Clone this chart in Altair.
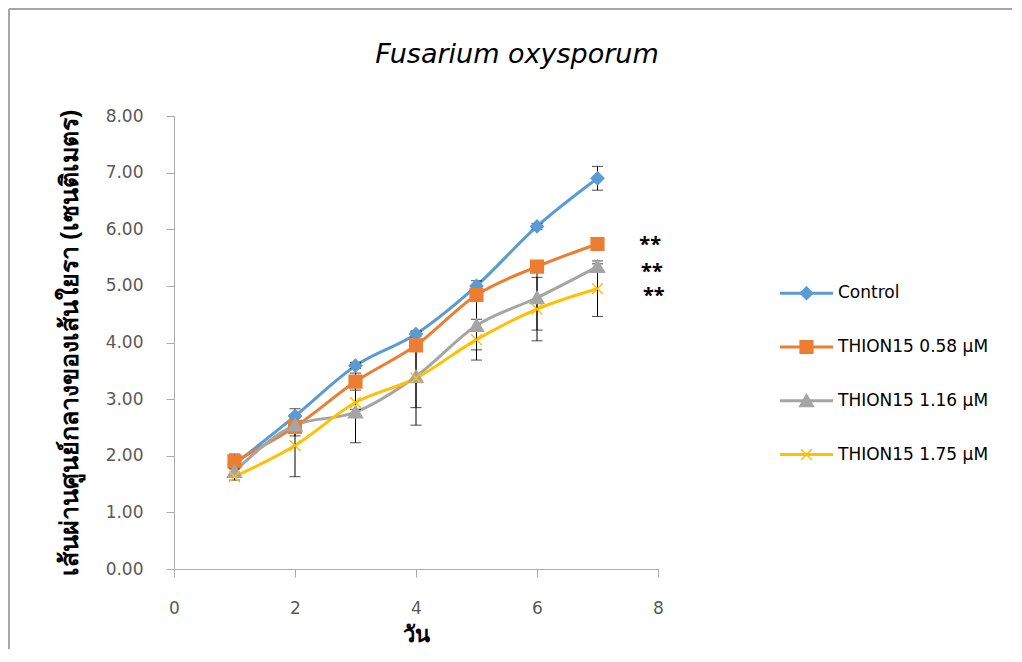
import altair as alt
import pandas as pd

# ---------------- data ----------------
days = [1, 2, 3, 4, 5, 6, 7]
series_names = ["Control", "THION15 0.58 µM", "THION15 1.16 µM", "THION15 1.75 µM"]

control = [1.85, 2.70, 3.59, 4.15, 5.00, 6.05, 6.90]
thion_058 = [1.90, 2.51, 3.31, 3.95, 4.84, 5.34, 5.74]
thion_116 = [1.72, 2.54, 2.77, 3.40, 4.30, 4.79, 5.34]
thion_175 = [1.63, 2.18, 2.94, 3.37, 4.05, 4.59, 4.95]

err_control = [0.05, 0.13, 0.05, 0.05, 0.09, 0.05, 0.21]
err_058 = [0.13, 0.16, 0.15, 0.05, 0.05, 0.05, 0.05]
err_116 = [0.05, 0.05, 0.05, 0.55, 0.43, 0.57, 0.05]
err_175 = [0.06, 0.55, 0.71, 0.83, 0.36, 0.56, 0.49]

colors = ["#5B9BD5", "#ED7D31", "#A5A5A5", "#FFC000"]

star_labels = ["**", "**", "**"]
star_x = [7.87, 7.90, 7.93]
star_y = [5.83, 5.35, 4.93]

x_ticks = [0, 2, 4, 6, 8]
y_ticks = [0, 1, 2, 3, 4, 5, 6, 7, 8]

title_text = "Fusarium oxysporum"
x_title = "วัน"
y_title = "เส้นผ่านศูนย์กลางของเส้นใยรา (เซนติเมตร)"

# ---------------- tables ----------------
rows = []
for name, vals, errs in zip(series_names,
                            [control, thion_058, thion_116, thion_175],
                            [err_control, err_058, err_116, err_175]):
    for d, v, e in zip(days, vals, errs):
        rows.append({"series": name, "day": d, "value": v,
                     "lo": v - e, "hi": v + e})
df = pd.DataFrame(rows)
stars = pd.DataFrame({"label": star_labels, "day": star_x, "value": star_y})
title_df = pd.DataFrame({"t": [title_text]})
legend_df = pd.DataFrame({"series": series_names,
                          "idx": list(range(len(series_names)))})

FONT = "Noto Sans"
LFONT = "DejaVu Sans"
AX = "#ADADAD"

x_enc = alt.X("day:Q", scale=alt.Scale(domain=[0, 8], nice=False),
              axis=alt.Axis(values=x_ticks, title=x_title, grid=False,
                            tickSize=8, labelPadding=23, titlePadding=8,
                            labelFontSize=17, titleFontSize=22,
                            titleFontWeight="bold", labelColor="#595959",
                            titleColor="#000000", domainColor=AX, tickColor=AX,
                            labelFont=LFONT, titleFont=FONT, labelFlush=False))


def y_enc(field):
    return alt.Y(f"{field}:Q", scale=alt.Scale(domain=[0, 8], nice=False),
                 axis=alt.Axis(values=y_ticks, format=".2f", title=y_title,
                               grid=False, tickSize=8, labelPadding=23,
                               titlePadding=23, labelFontSize=17,
                               titleFontSize=25, titleFontWeight="bold",
                               labelColor="#595959", titleColor="#000000",
                               domainColor=AX, tickColor=AX, labelFont=LFONT,
                               titleFont=FONT))


color_scale = alt.Scale(domain=series_names, range=colors)
marker_paths = [
    "M0,-1L1,0L0,1L-1,0Z",
    "M-1,-1H1V1H-1Z",
    "M0,-1L1.1,0.9H-1.1Z",
    "M-0.85,-0.85L0.85,0.85M0.85,-0.85L-0.85,0.85",
]
shape_scale = alt.Scale(domain=series_names, range=marker_paths)

base = alt.Chart(df)

lines = base.mark_line(strokeWidth=3, interpolate="monotone").encode(
    x=x_enc, y=y_enc("value"),
    color=alt.Color("series:N", scale=color_scale, legend=None),
    detail="series:N",
)

err_rule = base.mark_rule(color="black", strokeWidth=1).encode(
    x=x_enc, y=y_enc("lo"), y2="hi:Q")
cap_lo = base.mark_tick(color="black", orient="horizontal", size=11,
                        thickness=1).encode(x=x_enc, y=y_enc("lo"))
cap_hi = base.mark_tick(color="black", orient="horizontal", size=11,
                        thickness=1).encode(x=x_enc, y=y_enc("hi"))

markers = base.mark_point(size=160, filled=False, strokeWidth=1.5,
                          opacity=1).encode(
    x=x_enc, y=y_enc("value"),
    fill=alt.Fill("series:N", scale=color_scale, legend=None),
    stroke=alt.Stroke("series:N", scale=color_scale, legend=None),
    shape=alt.Shape("series:N", scale=shape_scale, legend=None),
)

# ---- legend (built from the series list; rows stacked by index) ----
leg_base = alt.Chart(legend_df).transform_calculate(
    ly="4.87 - datum.idx * 0.95"
)
leg_line = leg_base.mark_rule(strokeWidth=3).encode(
    x=alt.value(606), x2=alt.value(659), y=y_enc("ly"),
    color=alt.Color("series:N", scale=color_scale, legend=None),
)
leg_marker = leg_base.mark_point(size=160, filled=False, strokeWidth=1.5,
                                 opacity=1).encode(
    x=alt.value(632.5), y=y_enc("ly"),
    fill=alt.Fill("series:N", scale=color_scale, legend=None),
    stroke=alt.Stroke("series:N", scale=color_scale, legend=None),
    shape=alt.Shape("series:N", scale=shape_scale, legend=None),
)
leg_text = leg_base.mark_text(align="left", baseline="middle", fontSize=17,
                              font=LFONT, color="#000000").encode(
    x=alt.value(664), y=y_enc("ly"), text="series:N")

star_text = alt.Chart(stars).mark_text(
    fontSize=20, fontWeight="bold", font=FONT, color="#000000", dy=6
).encode(x=x_enc, y=y_enc("value"), text="label:N")

title_mark = alt.Chart(title_df).mark_text(
    fontSize=27, fontStyle="italic", font="DejaVu Sans", color="#000000",
    baseline="middle", align="center"
).encode(x=alt.value(343), y=alt.value(-61), text="t:N")

frame_left = alt.Chart(title_df).mark_rule(color="#A6A6A6", strokeWidth=2).encode(
    x=alt.value(-165), y=alt.value(-107), y2=alt.value(545))
frame_top = alt.Chart(title_df).mark_rule(color="#A6A6A6", strokeWidth=2).encode(
    x=alt.value(-165), x2=alt.value(850), y=alt.value(-107))

chart = alt.layer(
    frame_left, frame_top, title_mark, lines, err_rule, cap_lo, cap_hi,
    markers, leg_line, leg_marker, leg_text, star_text
).properties(
    width=484, height=453,
    background="white",
    autosize=alt.AutoSizeParams(type="none"),
    padding={"left": 166, "top": 108, "right": 354, "bottom": 80},
).configure_view(stroke=None)

chart.save("out.html", embed_options={"renderer": "svg", "actions": False})
